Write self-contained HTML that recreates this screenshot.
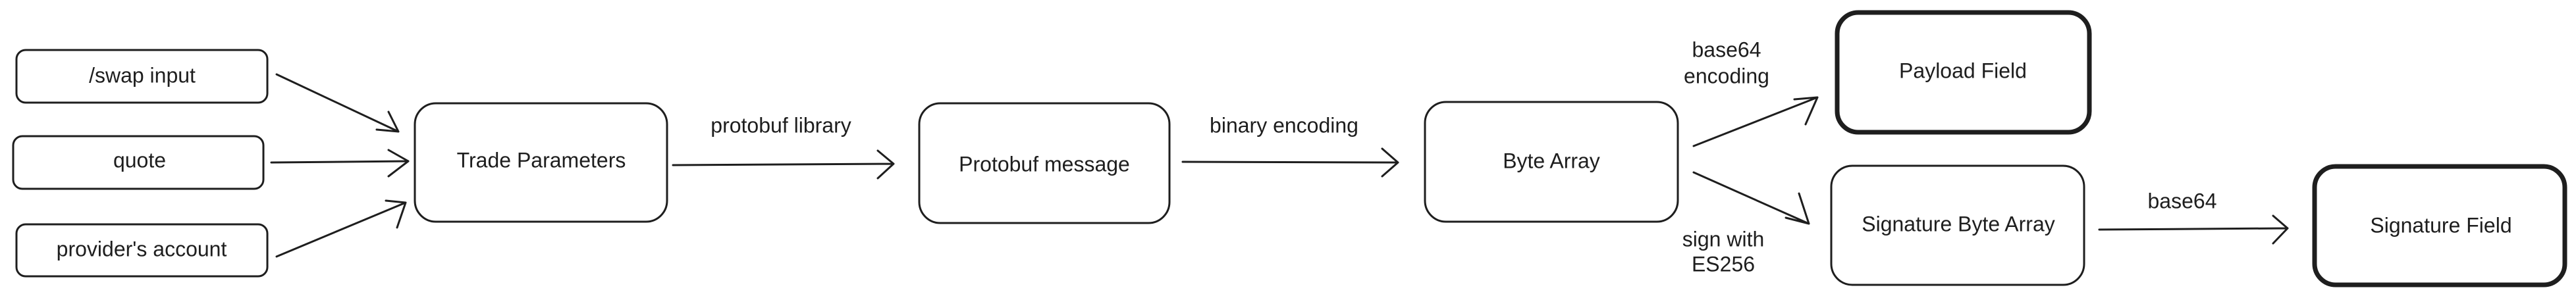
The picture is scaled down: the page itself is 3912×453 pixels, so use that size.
<!DOCTYPE html>
<html><head><meta charset="utf-8"><style>
html,body{margin:0;padding:0;background:#fff;}
svg{display:block;}
text{font-family:"Liberation Sans",sans-serif;font-size:32px;fill:#1e1e1e;text-anchor:middle;dominant-baseline:middle;}
</style></head><body>
<svg width="3912" height="453" viewBox="0 0 3912 453" xmlns="http://www.w3.org/2000/svg">
<g fill="none" stroke="#1e1e1e" stroke-width="3" stroke-linecap="round" stroke-linejoin="round">
<rect x="25" y="76" width="381" height="80" rx="14"/>
<rect x="20" y="207" width="380" height="80" rx="14"/>
<rect x="25" y="341" width="381" height="79" rx="14"/>
<rect x="630" y="157" width="383" height="180" rx="32"/>
<rect x="1396" y="157" width="380" height="182" rx="32"/>
<rect x="2164" y="155" width="384" height="182" rx="32"/>
<rect x="2781" y="252" width="384" height="181" rx="32"/>
<rect x="2790" y="19" width="383" height="182" rx="32" stroke-width="7"/>
<rect x="3515" y="253" width="380" height="180" rx="32" stroke-width="7"/>
<path d="M420 113 L605 200 M605 200 L572 197 M605 200 L590 170"/>
<path d="M412 247 L620 245 M620 245 L590 228 M620 245 L590 268"/>
<path d="M420 390 L616 308 M616 308 L586 305 M616 308 L603 346"/>
<path d="M1022 251 L1357 249 M1357 249 L1333 229 M1357 249 L1333 271"/>
<path d="M1796 246 L2123 247 M2123 247 L2099 226 M2123 247 L2099 268"/>
<path d="M2572 222 L2760 148 M2760 148 L2725 151 M2760 148 L2742 189"/>
<path d="M2572 262 L2747 340 M2747 340 L2712 331 M2747 340 L2732 294"/>
<path d="M3188 349 L3474 347 M3474 347 L3452 328 M3474 347 L3452 370"/>
</g>
<text x="216" y="117">/swap input</text>
<text x="212" y="246">quote</text>
<text x="215" y="381">provider's account</text>
<text x="822" y="246">Trade Parameters</text>
<text x="1186" y="193">protobuf library</text>
<text x="1586" y="252">Protobuf message</text>
<text x="1950" y="193">binary encoding</text>
<text x="2356" y="247">Byte Array</text>
<text x="2622" y="78">base64</text>
<text x="2622" y="118">encoding</text>
<text x="2617" y="366">sign with</text>
<text x="2617" y="404">ES256</text>
<text x="2981" y="110">Payload Field</text>
<text x="2974" y="343">Signature Byte Array</text>
<text x="3314" y="308">base64</text>
<text x="3707" y="345">Signature Field</text>
</svg>
</body></html>
